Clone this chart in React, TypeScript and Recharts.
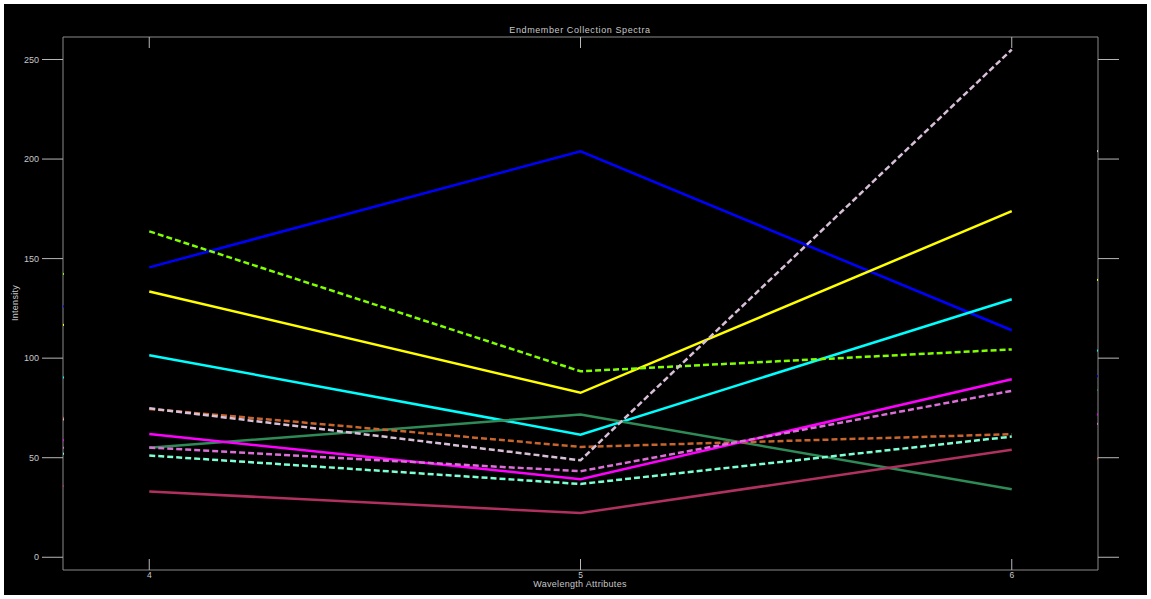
import {
  Cell,
  ComposedChart,
  Line,
  Scatter,
  XAxis,
  YAxis,
} from "recharts";

const wavelengths = [4, 5, 6];
const xTicks = [4, 5, 6];
const yTicks = [0, 50, 100, 150, 200, 250];

// endmember spectra, read at wavelength attributes 4, 5, 6
const blueSpectrum = [145.6, 203.9, 114.0];
const yellowSpectrum = [133.5, 82.6, 173.8];
const cyanSpectrum = [101.5, 61.6, 129.6];
const chartreuseSpectrum = [163.7, 93.4, 104.4];
const seaGreenSpectrum = [55.0, 71.7, 34.2];
const magentaSpectrum = [61.9, 39.2, 89.4];
const orchidSpectrum = [55.1, 43.2, 83.6];
const aquamarineSpectrum = [51.1, 36.8, 60.6];
const maroonSpectrum = [33.0, 22.2, 54.0];
const siennaSpectrum = [74.5, 55.4, 61.8];
const thistleSpectrum = [74.8, 48.7, 255.0];

// small stray marks sitting on the left and right frame
const leftEdgeValues = [142.3, 126.0, 116.7, 90.3, 70.0, 69.2, 58.8, 55.0, 52.0, 35.8];
const leftEdgeColors = ["#7fff00", "#0000ff", "#ffff00", "#00ffff", "#c8642d", "#d8bfd8", "#ff00ff", "#da70d6", "#7fffd4", "#b03060"];
const rightEdgeValues = [204.0, 139.3, 103.8, 91.0, 84.0, 71.7, 67.0, 49.6];
const rightEdgeColors = ["#d8bfd8", "#ffff00", "#00ffff", "#0000ff", "#2e8b57", "#ff00ff", "#da70d6", "#c8642d"];

const series = [
  { name: "blue", color: "#0000ff", dashed: false, values: blueSpectrum },
  { name: "yellow", color: "#ffff00", dashed: false, values: yellowSpectrum },
  { name: "cyan", color: "#00ffff", dashed: false, values: cyanSpectrum },
  { name: "chartreuse", color: "#7fff00", dashed: true, values: chartreuseSpectrum },
  { name: "seagreen", color: "#2e8b57", dashed: false, values: seaGreenSpectrum },
  { name: "sienna", color: "#c8642d", dashed: true, values: siennaSpectrum },
  { name: "magenta", color: "#ff00ff", dashed: false, values: magentaSpectrum },
  { name: "orchid", color: "#da70d6", dashed: true, values: orchidSpectrum },
  { name: "aquamarine", color: "#7fffd4", dashed: true, values: aquamarineSpectrum },
  { name: "maroon", color: "#b03060", dashed: false, values: maroonSpectrum },
  { name: "thistle", color: "#d8bfd8", dashed: true, values: thistleSpectrum },
];

const FONT = "'Liberation Sans', 'DejaVu Sans', sans-serif";
const FRAME = "#8a8a8a";
const TICK = "#b8b8b8";
const TEXT = "#c8c8c8";

function BottomTick(props: any) {
  const { x, y, payload } = props;
  return (
    <g>
      <line x1={x} x2={x} y1={y - 11} y2={y} stroke={TICK} strokeWidth={1} />
      <text x={x} y={y + 8} textAnchor="middle" fill={TEXT} fontSize={8.5} fontFamily={FONT}>
        {payload.value}
      </text>
    </g>
  );
}

function TopTick(props: any) {
  const { x, y } = props;
  return <line x1={x} x2={x} y1={y} y2={y + 11} stroke={TICK} strokeWidth={1} />;
}

function EdgeDot(props: any) {
  const { cx, cy, fill } = props;
  return <rect x={cx - 1} y={cy - 1} width={2} height={2} fill={fill} />;
}

export default function App() {
  const leftEdge = leftEdgeValues.map((v) => ({ x: 3.8, y: v }));
  const rightEdge = rightEdgeValues.map((v) => ({ x: 6.2, y: v }));
  return (
    <div style={{ position: "absolute", left: 0, top: 0, width: 1151, height: 599, background: "#ffffff" }}>
      <div style={{ position: "absolute", left: 4, top: 4, width: 1143, height: 591, background: "#000000" }} />
      <div style={{ position: "absolute", left: 0, top: 0 }}>
        <ComposedChart width={1151} height={599} margin={{ top: 0, right: 0, bottom: 0, left: 0 }}>
          <XAxis
            xAxisId="bottom"
            type="number"
            dataKey="x"
            domain={[3.8, 6.2]}
            ticks={xTicks}
            allowDataOverflow
            height={29}
            stroke={FRAME}
            tickSize={0}
            tickMargin={0}
            tickLine={false}
            tick={<BottomTick />}
          />
          <XAxis
            xAxisId="top"
            orientation="top"
            type="number"
            dataKey="x"
            domain={[3.8, 6.2]}
            ticks={xTicks}
            allowDataOverflow
            height={37}
            stroke={FRAME}
            tickSize={0}
            tickMargin={0}
            tickLine={false}
            tick={<TopTick />}
          />
          <YAxis
            yAxisId="left"
            type="number"
            domain={[-6.4, 261.3]}
            ticks={yTicks}
            allowDataOverflow
            width={63}
            stroke={FRAME}
            tickSize={21}
            tickMargin={3}
            tickLine={{ stroke: TICK }}
            tick={{ fill: TEXT, fontSize: 9, fontFamily: FONT }}
          />
          <YAxis
            yAxisId="right"
            orientation="right"
            type="number"
            domain={[-6.4, 261.3]}
            ticks={yTicks}
            allowDataOverflow
            width={53}
            stroke={FRAME}
            tickSize={21}
            tickLine={{ stroke: TICK }}
            tickFormatter={() => ""}
          />
          {series.map((s) => (
            <Line
              key={s.name}
              xAxisId="bottom"
              yAxisId="left"
              data={wavelengths.map((w, i) => ({ x: w, y: s.values[i] }))}
              dataKey="y"
              stroke={s.color}
              strokeWidth={2.5}
              strokeDasharray={s.dashed ? "6 3" : undefined}
              dot={false}
              activeDot={false}
              isAnimationActive={false}
            />
          ))}
          <Scatter xAxisId="bottom" yAxisId="left" data={leftEdge} dataKey="y" shape={<EdgeDot />} isAnimationActive={false}>
            {leftEdge.map((_, i) => (
              <Cell key={i} fill={leftEdgeColors[i]} />
            ))}
          </Scatter>
          <Scatter xAxisId="bottom" yAxisId="left" data={rightEdge} dataKey="y" shape={<EdgeDot />} isAnimationActive={false}>
            {rightEdge.map((_, i) => (
              <Cell key={i} fill={rightEdgeColors[i]} />
            ))}
          </Scatter>
        </ComposedChart>
      </div>
      <div
        style={{
          position: "absolute",
          left: 380,
          width: 400,
          top: 25,
          textAlign: "center",
          color: TEXT,
          fontFamily: FONT,
          fontSize: 9,
          letterSpacing: 0.6,
          lineHeight: "11px",
        }}
      >
        Endmember Collection Spectra
      </div>
      <div
        style={{
          position: "absolute",
          left: 380,
          width: 400,
          top: 579,
          textAlign: "center",
          color: TEXT,
          fontFamily: FONT,
          fontSize: 9,
          letterSpacing: 0.3,
          lineHeight: "10px",
        }}
      >
        Wavelength Attributes
      </div>
      <div
        style={{
          position: "absolute",
          left: 15,
          top: 303,
          transform: "translate(-50%, -50%) rotate(-90deg)",
          color: TEXT,
          fontFamily: FONT,
          fontSize: 9,
          letterSpacing: 0.3,
          lineHeight: "11px",
          whiteSpace: "nowrap",
        }}
      >
        Intensity
      </div>
    </div>
  );
}
